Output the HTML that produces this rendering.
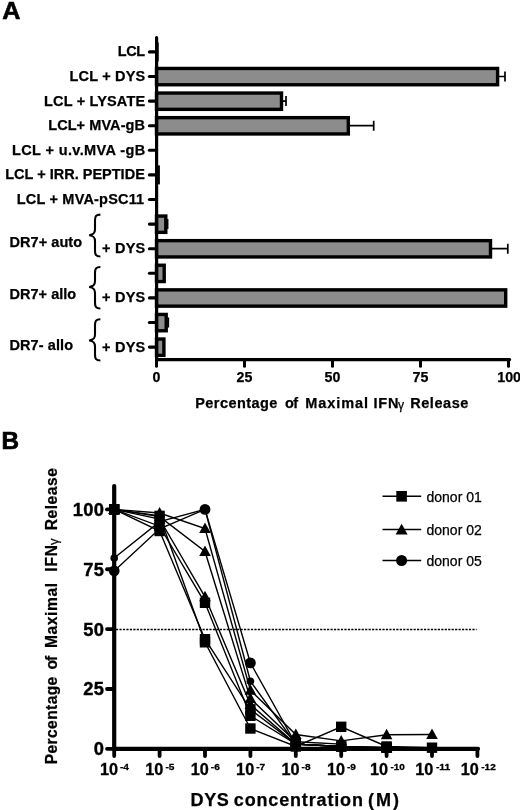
<!DOCTYPE html>
<html><head><meta charset="utf-8"><title>Figure</title>
<style>html,body{margin:0;padding:0;background:#fff}svg{display:block}text{font-family:"Liberation Sans",sans-serif;fill:#000}.b{font-weight:bold;stroke:#000;stroke-width:.25px}</style>
</head><body>
<svg width="520" height="810" viewBox="0 0 520 810">
<rect width="520" height="810" fill="#fff"/>
<text class="b" x="2.2" y="19.3" font-size="24.3" style="stroke-width:.6px" textLength="18.2" lengthAdjust="spacingAndGlyphs">A</text>
<line x1="149.4" y1="51.90" x2="156" y2="51.90" stroke="#000" stroke-width="3.1" stroke-linecap="round"/>
<text class="b" x="117.7" y="56.30" font-size="14.5" textLength="27.5" lengthAdjust="spacing">LCL</text>
<rect x="156.5" y="42.40" width="2.2" height="19" fill="#000"/>
<line x1="149.4" y1="76.50" x2="156" y2="76.50" stroke="#000" stroke-width="3.1" stroke-linecap="round"/>
<text class="b" x="69.6" y="80.90" font-size="14.5" textLength="75.6" lengthAdjust="spacing">LCL + DYS</text>
<path d="M497.6 76.50H505.0M505.0 71.50V81.50" stroke="#000" stroke-width="1.7" fill="none"/>
<rect x="156.5" y="68.45" width="341.1" height="16.3" fill="#8c8c8c" stroke="#000" stroke-width="3.4"/>
<line x1="149.4" y1="101.10" x2="156" y2="101.10" stroke="#000" stroke-width="3.1" stroke-linecap="round"/>
<text class="b" x="44.0" y="105.50" font-size="14.5" textLength="101.1" lengthAdjust="spacing">LCL + LYSATE</text>
<path d="M281.5 101.10H286.0M286.0 96.10V106.10" stroke="#000" stroke-width="1.7" fill="none"/>
<rect x="156.5" y="93.05" width="125.0" height="16.3" fill="#8c8c8c" stroke="#000" stroke-width="3.4"/>
<line x1="149.4" y1="125.70" x2="156" y2="125.70" stroke="#000" stroke-width="3.1" stroke-linecap="round"/>
<text class="b" x="48.2" y="130.10" font-size="14.5" textLength="96.8" lengthAdjust="spacing">LCL+ MVA-gB</text>
<path d="M348.3 125.70H373.7M373.7 120.70V130.70" stroke="#000" stroke-width="1.7" fill="none"/>
<rect x="156.5" y="117.65" width="191.8" height="16.3" fill="#8c8c8c" stroke="#000" stroke-width="3.4"/>
<line x1="149.4" y1="150.30" x2="156" y2="150.30" stroke="#000" stroke-width="3.1" stroke-linecap="round"/>
<text class="b" x="11.9" y="154.70" font-size="14.5" textLength="133.3" lengthAdjust="spacing">LCL + u.v.MVA -gB</text>
<line x1="149.4" y1="174.90" x2="156" y2="174.90" stroke="#000" stroke-width="3.1" stroke-linecap="round"/>
<text class="b" x="5.2" y="179.30" font-size="14.5" textLength="139.6" lengthAdjust="spacing">LCL + IRR. PEPTIDE</text>
<rect x="156.5" y="165.40" width="3.4" height="19" fill="#000"/>
<line x1="149.4" y1="199.50" x2="156" y2="199.50" stroke="#000" stroke-width="3.1" stroke-linecap="round"/>
<text class="b" x="16.8" y="203.90" font-size="14.5" textLength="127.4" lengthAdjust="spacing">LCL + MVA-pSC11</text>
<line x1="149.4" y1="224.10" x2="156" y2="224.10" stroke="#000" stroke-width="3.1" stroke-linecap="round"/>
<path d="M165.8 224.10H167.6M167.6 219.10V229.10" stroke="#000" stroke-width="1.7" fill="none"/>
<rect x="156.5" y="216.05" width="9.3" height="16.3" fill="#8c8c8c" stroke="#000" stroke-width="3.4"/>
<line x1="149.4" y1="248.70" x2="156" y2="248.70" stroke="#000" stroke-width="3.1" stroke-linecap="round"/>
<text class="b" x="102.1" y="253.10" font-size="14.5" textLength="43.1" lengthAdjust="spacing">+ DYS</text>
<path d="M490.5 248.70H507.8M507.8 243.70V253.70" stroke="#000" stroke-width="1.7" fill="none"/>
<rect x="156.5" y="240.65" width="334.0" height="16.3" fill="#8c8c8c" stroke="#000" stroke-width="3.4"/>
<line x1="149.4" y1="273.30" x2="156" y2="273.30" stroke="#000" stroke-width="3.1" stroke-linecap="round"/>
<rect x="156.5" y="265.25" width="7.7" height="16.3" fill="#8c8c8c" stroke="#000" stroke-width="3.4"/>
<line x1="149.4" y1="297.90" x2="156" y2="297.90" stroke="#000" stroke-width="3.1" stroke-linecap="round"/>
<text class="b" x="102.1" y="302.30" font-size="14.5" textLength="43.1" lengthAdjust="spacing">+ DYS</text>
<rect x="156.5" y="289.85" width="349.2" height="16.3" fill="#8c8c8c" stroke="#000" stroke-width="3.4"/>
<line x1="149.4" y1="322.50" x2="156" y2="322.50" stroke="#000" stroke-width="3.1" stroke-linecap="round"/>
<path d="M166.2 322.50H168.3M168.3 317.50V327.50" stroke="#000" stroke-width="1.7" fill="none"/>
<rect x="156.5" y="314.45" width="9.7" height="16.3" fill="#8c8c8c" stroke="#000" stroke-width="3.4"/>
<line x1="149.4" y1="347.10" x2="156" y2="347.10" stroke="#000" stroke-width="3.1" stroke-linecap="round"/>
<text class="b" x="102.1" y="351.50" font-size="14.5" textLength="43.1" lengthAdjust="spacing">+ DYS</text>
<rect x="156.5" y="339.05" width="7.4" height="16.3" fill="#8c8c8c" stroke="#000" stroke-width="3.4"/>
<text class="b" x="9.5" y="246.6" font-size="14.5" textLength="72.6">DR7+ auto</text>
<text class="b" x="9.5" y="298.6" font-size="14.5" textLength="66.7">DR7+ allo</text>
<text class="b" x="9.5" y="349.6" font-size="14.5" textLength="63.5">DR7- allo</text>
<path d="M100.4 214.6 C96 214.6 95 216.1 95 220.6 V229.2 C95 233.2 93.5 234.7 89.2 235.2 C93.5 235.7 95 237.2 95 241.2 V250.5 C95 255.0 96 256.5 100.4 256.5" fill="none" stroke="#000" stroke-width="2.1"/>
<path d="M100.4 267 C96 267 95 268.5 95 273 V281 C95 285 93.5 286.5 89.2 287 C93.5 287.5 95 289 95 293 V302.5 C95 307.0 96 308.5 100.4 308.5" fill="none" stroke="#000" stroke-width="2.1"/>
<path d="M100.4 319.3 C96 319.3 95 320.8 95 325.3 V334.5 C95 338.5 93.5 340.0 89.2 340.5 C93.5 341.0 95 342.5 95 346.5 V354.5 C95 359.0 96 360.5 100.4 360.5" fill="none" stroke="#000" stroke-width="2.1"/>
<path d="M156.6 37.6V359.6H509.6" fill="none" stroke="#000" stroke-width="3.2" stroke-linecap="round"/>
<line x1="156.5" y1="359.6" x2="156.5" y2="366.3" stroke="#000" stroke-width="3" stroke-linecap="round"/>
<text class="b" x="156.5" y="382.4" font-size="14.2" text-anchor="middle">0</text>
<line x1="244.5" y1="359.6" x2="244.5" y2="366.3" stroke="#000" stroke-width="3" stroke-linecap="round"/>
<text class="b" x="244.5" y="382.4" font-size="14.2" text-anchor="middle">25</text>
<line x1="332.5" y1="359.6" x2="332.5" y2="366.3" stroke="#000" stroke-width="3" stroke-linecap="round"/>
<text class="b" x="332.5" y="382.4" font-size="14.2" text-anchor="middle">50</text>
<line x1="420.5" y1="359.6" x2="420.5" y2="366.3" stroke="#000" stroke-width="3" stroke-linecap="round"/>
<text class="b" x="420.5" y="382.4" font-size="14.2" text-anchor="middle">75</text>
<line x1="508.5" y1="359.6" x2="508.5" y2="366.3" stroke="#000" stroke-width="3" stroke-linecap="round"/>
<text class="b" x="509.1" y="382.4" font-size="14.2" text-anchor="middle">100</text>
<text class="b" y="408" font-size="14.5"><tspan x="195.2" textLength="82.2">Percentage</tspan><tspan x="284.9" textLength="13.2">of</tspan><tspan x="305.2" textLength="62.8">Maximal</tspan><tspan x="373.5" textLength="25.0">IFN</tspan><tspan x="398.1" dy="0.6" font-size="12.2" font-weight="normal">γ</tspan><tspan dy="-0.6"> </tspan><tspan x="410.2" textLength="58.2">Release</tspan></text>
<text class="b" x="1.5" y="449.4" font-size="24.3" style="stroke-width:.7px">B</text>
<line x1="116" y1="629.42" x2="476.6" y2="629.42" stroke="#000" stroke-width="1.5" stroke-dasharray="2.2 1.26"/>
<polyline points="114.2,509.4 159.6,515.9 205.0,642.3 250.4,728.5 295.8,746.5 341.2,726.8 386.6,746.5 432.0,747.7" fill="none" stroke="#000" stroke-width="1.4"/>
<polyline points="114.2,509.4 159.6,526.2 205.0,602.8 250.4,715.8 295.8,744.1 341.2,746.5 386.6,747.7" fill="none" stroke="#000" stroke-width="1.4"/>
<polyline points="114.2,509.4 159.6,531.0 205.0,639.2 250.4,709.3 295.8,744.1 341.2,746.5 386.6,747.7" fill="none" stroke="#000" stroke-width="1.4"/>
<polyline points="114.2,509.4 159.6,513.0 205.0,528.6 250.4,690.2 295.8,734.5 341.2,740.9 386.6,734.7 432.0,734.5" fill="none" stroke="#000" stroke-width="1.4"/>
<polyline points="114.2,509.4 159.6,516.6 205.0,551.5 250.4,698.6 295.8,741.7 341.2,744.1" fill="none" stroke="#000" stroke-width="1.4"/>
<polyline points="114.2,509.4 159.6,519.0 205.0,596.8 250.4,704.6 295.8,744.1 341.2,746.5 386.6,747.7" fill="none" stroke="#000" stroke-width="1.4"/>
<polyline points="114.2,570.9 159.6,528.8 205.0,509.4 250.4,662.9 295.8,744.1 341.2,746.5" fill="none" stroke="#000" stroke-width="1.4"/>
<polyline points="114.2,558.0 159.6,521.6 205.0,509.4 250.4,681.3 295.8,744.1 341.2,746.5" fill="none" stroke="#000" stroke-width="1.4"/>
<rect x="109.0" y="504.2" width="10.4" height="10.4"/>
<rect x="154.4" y="510.7" width="10.4" height="10.4"/>
<rect x="199.8" y="637.1" width="10.4" height="10.4"/>
<rect x="245.2" y="723.3" width="10.4" height="10.4"/>
<rect x="290.6" y="741.3" width="10.4" height="10.4"/>
<rect x="336.0" y="721.6" width="10.4" height="10.4"/>
<rect x="381.4" y="741.3" width="10.4" height="10.4"/>
<rect x="426.8" y="742.5" width="10.4" height="10.4"/>
<rect x="109.0" y="504.2" width="10.4" height="10.4"/>
<rect x="154.4" y="521.0" width="10.4" height="10.4"/>
<rect x="199.8" y="597.6" width="10.4" height="10.4"/>
<rect x="245.2" y="710.6" width="10.4" height="10.4"/>
<rect x="290.6" y="738.9" width="10.4" height="10.4"/>
<rect x="336.0" y="741.3" width="10.4" height="10.4"/>
<rect x="381.4" y="742.5" width="10.4" height="10.4"/>
<rect x="109.0" y="504.2" width="10.4" height="10.4"/>
<rect x="154.4" y="525.8" width="10.4" height="10.4"/>
<rect x="199.8" y="634.0" width="10.4" height="10.4"/>
<rect x="245.2" y="704.1" width="10.4" height="10.4"/>
<rect x="290.6" y="738.9" width="10.4" height="10.4"/>
<rect x="336.0" y="741.3" width="10.4" height="10.4"/>
<rect x="381.4" y="742.5" width="10.4" height="10.4"/>
<path d="M114.2 503.4L120.0 513.9H108.4Z"/>
<path d="M159.6 507.0L165.4 517.5H153.8Z"/>
<path d="M205.0 522.6L210.8 533.1H199.2Z"/>
<path d="M250.4 684.2L256.2 694.7H244.6Z"/>
<path d="M295.8 728.5L301.6 739.0H290.0Z"/>
<path d="M341.2 734.9L347.0 745.4H335.4Z"/>
<path d="M386.6 728.7L392.4 739.2H380.8Z"/>
<path d="M432.0 728.5L437.8 739.0H426.2Z"/>
<path d="M114.2 503.4L120.0 513.9H108.4Z"/>
<path d="M159.6 510.6L165.4 521.1H153.8Z"/>
<path d="M205.0 545.5L210.8 556.0H199.2Z"/>
<path d="M250.4 692.6L256.2 703.1H244.6Z"/>
<path d="M295.8 735.7L301.6 746.2H290.0Z"/>
<path d="M341.2 738.1L347.0 748.6H335.4Z"/>
<path d="M114.2 503.4L120.0 513.9H108.4Z"/>
<path d="M159.6 513.0L165.4 523.5H153.8Z"/>
<path d="M205.0 590.8L210.8 601.3H199.2Z"/>
<path d="M250.4 698.6L256.2 709.1H244.6Z"/>
<path d="M295.8 738.1L301.6 748.6H290.0Z"/>
<path d="M341.2 740.5L347.0 751.0H335.4Z"/>
<path d="M386.6 741.7L392.4 752.2H380.8Z"/>
<circle cx="114.2" cy="570.9" r="5.4"/>
<circle cx="159.6" cy="528.8" r="5.4"/>
<circle cx="205.0" cy="509.4" r="5.4"/>
<circle cx="250.4" cy="662.9" r="5.4"/>
<circle cx="295.8" cy="744.1" r="5.4"/>
<circle cx="341.2" cy="746.5" r="5.4"/>
<circle cx="114.2" cy="558.0" r="3.8"/>
<circle cx="159.6" cy="521.6" r="3.8"/>
<circle cx="205.0" cy="509.4" r="3.8"/>
<circle cx="250.4" cy="681.3" r="3.8"/>
<circle cx="295.8" cy="744.1" r="3.8"/>
<circle cx="341.2" cy="746.5" r="3.8"/>
<path d="M114.2 486V748.85H478" fill="none" stroke="#000" stroke-width="4.2" stroke-linecap="round" stroke-linejoin="round"/>
<line x1="107" y1="748.85" x2="114" y2="748.85" stroke="#000" stroke-width="3.8" stroke-linecap="round"/>
<text class="b" x="104.1" y="755.35" font-size="18.3" text-anchor="end" style="stroke-width:.4px" letter-spacing="0.25">0</text>
<line x1="107" y1="688.99" x2="114" y2="688.99" stroke="#000" stroke-width="3.8" stroke-linecap="round"/>
<text class="b" x="104.1" y="695.49" font-size="18.3" text-anchor="end" style="stroke-width:.4px" letter-spacing="0.25">25</text>
<line x1="107" y1="629.12" x2="114" y2="629.12" stroke="#000" stroke-width="3.8" stroke-linecap="round"/>
<text class="b" x="104.1" y="635.62" font-size="18.3" text-anchor="end" style="stroke-width:.4px" letter-spacing="0.25">50</text>
<line x1="107" y1="569.26" x2="114" y2="569.26" stroke="#000" stroke-width="3.8" stroke-linecap="round"/>
<text class="b" x="104.1" y="575.76" font-size="18.3" text-anchor="end" style="stroke-width:.4px" letter-spacing="0.25">75</text>
<line x1="107" y1="509.40" x2="114" y2="509.40" stroke="#000" stroke-width="3.8" stroke-linecap="round"/>
<text class="b" x="104.1" y="515.90" font-size="18.3" text-anchor="end" style="stroke-width:.4px" letter-spacing="0.25">100</text>
<line x1="114.2" y1="748.85" x2="114.2" y2="756" stroke="#000" stroke-width="3.8" stroke-linecap="round"/>
<text class="b" y="774.8" font-size="15.8" style="stroke-width:.3px"><tspan x="99.9" textLength="18.1" lengthAdjust="spacingAndGlyphs">10</tspan><tspan x="120.0" dy="-5.0" font-size="9.6" textLength="9.0" lengthAdjust="spacingAndGlyphs">-4</tspan></text>
<line x1="159.6" y1="748.85" x2="159.6" y2="756" stroke="#000" stroke-width="3.8" stroke-linecap="round"/>
<text class="b" y="774.8" font-size="15.8" style="stroke-width:.3px"><tspan x="145.3" textLength="18.1" lengthAdjust="spacingAndGlyphs">10</tspan><tspan x="165.4" dy="-5.0" font-size="9.6" textLength="9.0" lengthAdjust="spacingAndGlyphs">-5</tspan></text>
<line x1="205.0" y1="748.85" x2="205.0" y2="756" stroke="#000" stroke-width="3.8" stroke-linecap="round"/>
<text class="b" y="774.8" font-size="15.8" style="stroke-width:.3px"><tspan x="190.7" textLength="18.1" lengthAdjust="spacingAndGlyphs">10</tspan><tspan x="210.8" dy="-5.0" font-size="9.6" textLength="9.0" lengthAdjust="spacingAndGlyphs">-6</tspan></text>
<line x1="250.4" y1="748.85" x2="250.4" y2="756" stroke="#000" stroke-width="3.8" stroke-linecap="round"/>
<text class="b" y="774.8" font-size="15.8" style="stroke-width:.3px"><tspan x="236.1" textLength="18.1" lengthAdjust="spacingAndGlyphs">10</tspan><tspan x="256.2" dy="-5.0" font-size="9.6" textLength="9.0" lengthAdjust="spacingAndGlyphs">-7</tspan></text>
<line x1="295.8" y1="748.85" x2="295.8" y2="756" stroke="#000" stroke-width="3.8" stroke-linecap="round"/>
<text class="b" y="774.8" font-size="15.8" style="stroke-width:.3px"><tspan x="281.5" textLength="18.1" lengthAdjust="spacingAndGlyphs">10</tspan><tspan x="301.6" dy="-5.0" font-size="9.6" textLength="9.0" lengthAdjust="spacingAndGlyphs">-8</tspan></text>
<line x1="341.2" y1="748.85" x2="341.2" y2="756" stroke="#000" stroke-width="3.8" stroke-linecap="round"/>
<text class="b" y="774.8" font-size="15.8" style="stroke-width:.3px"><tspan x="326.9" textLength="18.1" lengthAdjust="spacingAndGlyphs">10</tspan><tspan x="347.0" dy="-5.0" font-size="9.6" textLength="9.0" lengthAdjust="spacingAndGlyphs">-9</tspan></text>
<line x1="386.6" y1="748.85" x2="386.6" y2="756" stroke="#000" stroke-width="3.8" stroke-linecap="round"/>
<text class="b" y="774.8" font-size="15.8" style="stroke-width:.3px"><tspan x="369.9" textLength="18.1" lengthAdjust="spacingAndGlyphs">10</tspan><tspan x="390.5" dy="-5.0" font-size="9.6" textLength="14.4" lengthAdjust="spacingAndGlyphs">-10</tspan></text>
<line x1="432.0" y1="748.85" x2="432.0" y2="756" stroke="#000" stroke-width="3.8" stroke-linecap="round"/>
<text class="b" y="774.8" font-size="15.8" style="stroke-width:.3px"><tspan x="415.3" textLength="18.1" lengthAdjust="spacingAndGlyphs">10</tspan><tspan x="435.9" dy="-5.0" font-size="9.6" textLength="14.4" lengthAdjust="spacingAndGlyphs">-11</tspan></text>
<line x1="477.4" y1="748.85" x2="477.4" y2="756" stroke="#000" stroke-width="3.8" stroke-linecap="round"/>
<text class="b" y="774.8" font-size="15.8" style="stroke-width:.3px"><tspan x="460.7" textLength="18.1" lengthAdjust="spacingAndGlyphs">10</tspan><tspan x="481.3" dy="-5.0" font-size="9.6" textLength="14.4" lengthAdjust="spacingAndGlyphs">-12</tspan></text>
<text class="b" y="806" font-size="18"><tspan x="190.6" textLength="38.2">DYS</tspan><tspan x="233.8" textLength="129.1">concentration</tspan><tspan x="368.0" textLength="31.1">(M)</tspan></text>
<text class="b" transform="translate(56.9 763.1) rotate(-90)" y="0" font-size="15.6"><tspan x="-1.1" textLength="87.5">Percentage</tspan><tspan x="93.6" textLength="13.6">of</tspan><tspan x="115.1" textLength="65.1">Maximal</tspan><tspan x="191.4" textLength="26.8">IFN</tspan><tspan x="218.0" dy="0.6" font-size="13.1" font-weight="normal">γ</tspan><tspan dy="-0.6"> </tspan><tspan x="232.9" textLength="62.1">Release</tspan></text>
<line x1="382.5" y1="496.3" x2="421.2" y2="496.3" stroke="#000" stroke-width="1.4"/>
<rect x="396.3" y="491.0" width="10.6" height="10.6"/>
<text x="426.5" y="501.5" font-size="14" stroke="#000" stroke-width="0.25">donor 01</text>
<line x1="382.5" y1="529.5" x2="421.2" y2="529.5" stroke="#000" stroke-width="1.4"/>
<path d="M401.6 523.7L407.6 534.5H395.6Z"/>
<text x="426.5" y="534.7" font-size="14" stroke="#000" stroke-width="0.25">donor 02</text>
<line x1="382.5" y1="560.5" x2="421.2" y2="560.5" stroke="#000" stroke-width="1.4"/>
<circle cx="401.6" cy="560.5" r="5.5"/>
<text x="426.5" y="565.7" font-size="14" stroke="#000" stroke-width="0.25">donor 05</text>
</svg></body></html>
